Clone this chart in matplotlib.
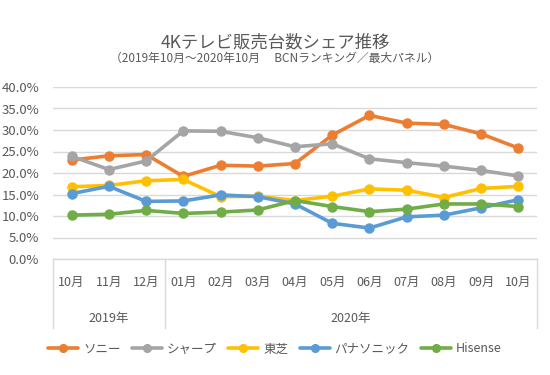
import matplotlib.pyplot as plt
import matplotlib.transforms as mtransforms
from matplotlib.ticker import PercentFormatter

plt.rcParams['font.family'] = ['Noto Sans CJK JP', 'DejaVu Sans']

# ---------------------------
# DATOS
# ---------------------------
meses = ["10月", "11月", "12月", "01月", "02月", "03月", "04月",
         "05月", "06月", "07月", "08月", "09月", "10月"]
anios = ["2019年", "2020年"]
meses_por_anio = [3, 10]

series = ["ソニー", "シャープ", "東芝", "パナソニック", "Hisense"]
sony = [23.0, 24.0, 24.3, 19.2, 21.8, 21.6, 22.2, 28.8, 33.4, 31.6, 31.3, 29.1, 25.8]
sharp = [23.9, 20.8, 22.8, 29.8, 29.7, 28.2, 26.1, 26.8, 23.3, 22.4, 21.6, 20.6, 19.3]
toshiba = [16.8, 17.1, 18.2, 18.5, 14.5, 14.6, 13.6, 14.6, 16.3, 16.0, 14.3, 16.4, 16.9]
panasonic = [15.2, 16.9, 13.4, 13.5, 14.9, 14.5, 12.8, 8.3, 7.2, 9.8, 10.2, 11.9, 13.8]
hisense = [10.2, 10.4, 11.3, 10.6, 10.9, 11.4, 13.6, 12.2, 11.0, 11.6, 12.8, 12.8, 12.2]
valores = [sony, sharp, toshiba, panasonic, hisense]
colores = ["#ED7D31", "#A5A5A5", "#FFC000", "#5B9BD5", "#70AD47"]

TEXTO = "#595959"
LINEA = "#D9D9D9"

# ---------------------------
# GRAFICAR
# ---------------------------
fig = plt.figure(figsize=(5.5, 3.75), dpi=100)
ax = fig.add_axes([53 / 550, 1 - 259 / 375, 484 / 550, 172 / 375])

x = list(range(len(meses)))
for nombre, vals, col in zip(series, valores, colores):
    ax.plot(x, [v / 100 for v in vals], color=col, lw=2.6, marker="o",
            ms=6.5, label=nombre, solid_capstyle="round")

ax.set_xlim(-0.5, len(meses) - 0.5)
ax.set_ylim(0, 0.4)
ax.set_yticks([i * 0.05 for i in range(9)])
ax.yaxis.set_major_formatter(PercentFormatter(1.0, decimals=1))
ax.tick_params(axis="y", length=0, labelsize=9.5, labelcolor=TEXTO, pad=10)
ax.set_xticks([])
ax.grid(axis="y", color=LINEA, lw=1)
ax.set_axisbelow(True)
for s in ax.spines.values():
    s.set_visible(False)

# eje de categorías multinivel
trans = mtransforms.blended_transform_factory(ax.transData, ax.transAxes)
ax.plot([-0.5, len(meses) - 0.5], [0, 0], color=LINEA, lw=1,
        transform=trans, clip_on=False)
bordes = [-0.5]
for n in meses_por_anio:
    bordes.append(bordes[-1] + n)
for b in bordes:
    ax.plot([b, b], [0, -0.40], color=LINEA, lw=1, transform=trans, clip_on=False)
for i, m in enumerate(meses):
    ax.text(i, -0.135, m, transform=trans, ha="center", va="center",
            fontsize=9, color=TEXTO)
for a, b0, b1 in zip(anios, bordes[:-1], bordes[1:]):
    ax.text((b0 + b1) / 2, -0.345, a, transform=trans, ha="center",
            va="center", fontsize=9, color=TEXTO)

fig.text(0.5, 1 - 42 / 375, "4Kテレビ販売台数シェア推移", ha="center",
         va="center", fontsize=12.5, color=TEXTO)
fig.text(0.5, 1 - 58 / 375,
         "（2019年10月～2020年10月　 BCNランキング／最大パネル）",
         ha="center", va="center", fontsize=8.5, color=TEXTO)

fig.legend(loc="center", bbox_to_anchor=(0.5, 1 - 349 / 375), ncol=5,
           frameon=False, fontsize=9, labelcolor=TEXTO, handlelength=2.4,
           columnspacing=0.9, handletextpad=0.4, markerscale=0.85)

fig.savefig("out.png", dpi=100)
